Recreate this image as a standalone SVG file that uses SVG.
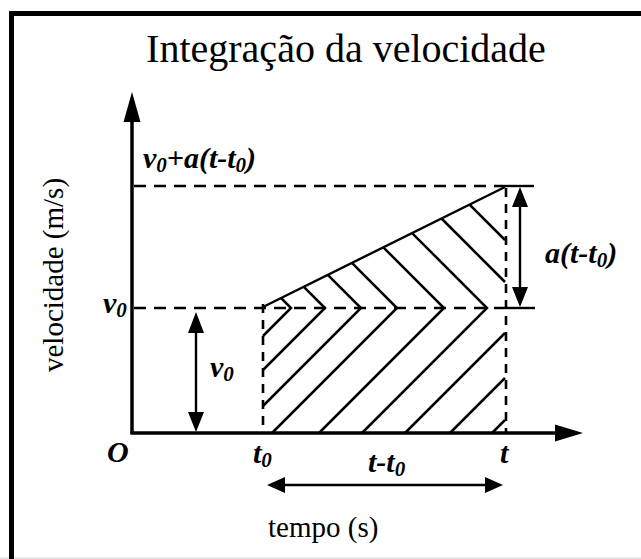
<svg xmlns="http://www.w3.org/2000/svg" width="641" height="559" viewBox="0 0 641 559">
<style>
.ax{stroke:#000;stroke-width:3.5;fill:none}
.dash{stroke:#000;stroke-width:2.6;fill:none;stroke-dasharray:12 8}
.vdash{stroke:#000;stroke-width:2.6;fill:none;stroke-dasharray:9 7}
.ln{stroke:#000;stroke-width:2.4;fill:none}
.ht{stroke:#000;stroke-width:2.5;fill:none;stroke-linejoin:miter}
.lab{font-family:"Liberation Serif",serif;font-weight:bold;font-style:italic;font-size:30px;fill:#000}
.sub{font-size:21px}
.plain{font-family:"Liberation Serif",serif;fill:#000}
.head{fill:#000}
</style>
<rect x="0" y="0" width="641" height="559" fill="#fff"/>
<rect x="0" y="557" width="641" height="2" fill="#e8e8e8"/>
<g id="frame"><path d="M11.5 559 V13.5 H641" stroke="#000" stroke-width="5" fill="none"/></g>
<g id="title"><text class="plain" x="346" y="62" font-size="40" text-anchor="middle">Integração da velocidade</text></g>
<g id="axes">
<line class="ax" x1="132" y1="433" x2="132" y2="118"/>
<polygon class="head" points="132,92 123.5,122 140.5,122"/>
<line class="ax" x1="130.3" y1="433" x2="558" y2="433"/>
<polygon class="head" points="583,433 555,424.5 555,441.5"/>
</g>
<g id="connectors">
<line class="dash" x1="134" y1="186" x2="503" y2="186"/>
<line class="dash" x1="134" y1="308" x2="503" y2="308"/>
<line class="vdash" x1="263" y1="304" x2="263" y2="433"/>
<line class="vdash" x1="506" y1="188" x2="506" y2="433"/>
<line class="ln" x1="503" y1="186" x2="534" y2="186"/>
<line class="ln" x1="503" y1="308" x2="535" y2="308"/>
<line class="ln" x1="263" y1="307" x2="505" y2="187"/>
<line class="ln" x1="520" y1="200" x2="520" y2="295"/>
<polygon class="head" points="520,187 512,207 528,207"/>
<polygon class="head" points="520,307 512,287 528,287"/>
<line class="ln" x1="196" y1="325" x2="196" y2="420"/>
<polygon class="head" points="196,312 188,333 204,333"/>
<polygon class="head" points="196,432 188,412 204,412"/>
<line class="ln" x1="280" y1="485" x2="490" y2="485"/>
<polygon class="head" points="267,485 285,477 285,493"/>
<polygon class="head" points="503,485 485,477 485,493"/>
</g>
<g id="hatch">
<polyline class="ht" points="281,298 291,308 263,336"/>
<polyline class="ht" points="303.8,286.8 325,308 263,370"/>
<polyline class="ht" points="327.8,274.8 361,308 263,406"/>
<polyline class="ht" points="351.9,262.9 397,308 272,433"/>
<polyline class="ht" points="383.3,247.3 444,308 319,433"/>
<polyline class="ht" points="412.1,233.1 487,308 362,433"/>
<line class="ht" x1="441.5" y1="218.5" x2="505" y2="282"/>
<line class="ht" x1="469.6" y1="204.6" x2="505" y2="240"/>
<line class="ht" x1="405" y1="433" x2="505" y2="333"/>
<line class="ht" x1="450" y1="433" x2="505" y2="378"/>
<line class="ht" x1="492" y1="433" x2="505" y2="420"/>
</g>
<g id="labels">
<text class="lab" x="143" y="168">v<tspan class="sub" dy="4">0</tspan><tspan dy="-4">+a(t-t</tspan><tspan class="sub" dy="4">0</tspan><tspan dy="-4">)</tspan></text>
<text class="lab" x="103" y="313">v<tspan class="sub" dy="4">0</tspan></text>
<text class="lab" x="210" y="377">v<tspan class="sub" dy="4">0</tspan></text>
<text class="lab" x="545" y="263">a(t-t<tspan class="sub" dy="4">0</tspan><tspan dy="-4">)</tspan></text>
<text class="lab" x="107" y="462">O</text>
<text class="lab" x="253" y="463">t<tspan class="sub" dy="4">0</tspan></text>
<text class="lab" x="500" y="463">t</text>
<text class="lab" x="368" y="472">t-t<tspan class="sub" dy="4">0</tspan></text>
</g>
<g id="axis-titles">
<text class="plain" font-size="29" transform="translate(63,372) rotate(-90)">velocidade (m/s)</text>
<text class="plain" font-size="29" x="268" y="537">tempo (s)</text>
</g>
</svg>
